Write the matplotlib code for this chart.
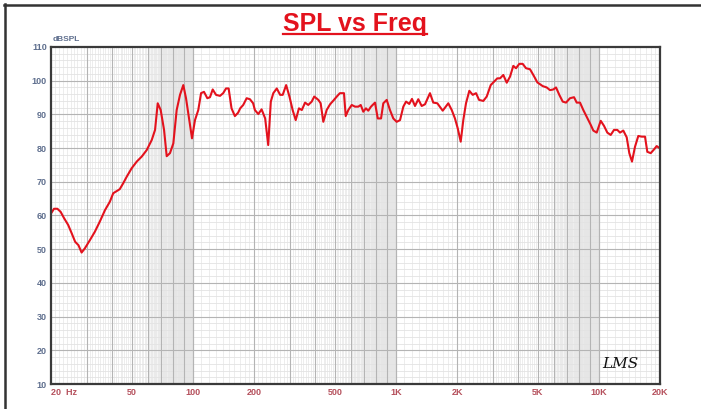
import numpy as np
import matplotlib
matplotlib.use("Agg")
import matplotlib.pyplot as plt
from matplotlib.lines import Line2D

# frequency response (Hz, dB SPL)
freq = [20, 20.7, 21.5, 22.3, 23.2, 24.3, 25.3, 26.3, 27.3, 28.3, 29.4, 31.1,
        32.9, 34.8, 36.9, 39.0, 40.5, 43.6, 45.3, 47.2, 49.9, 52.9, 56, 59.2,
        62.7, 65.1, 67.1, 69.4, 72.1, 74.3, 77.1, 80.1, 83.2, 86.4, 89.7, 92.5,
        96, 99, 102.4, 106.3, 109.7, 113.4, 117.8, 121.4, 125.2, 130, 136, 141,
        145.6, 150, 155, 161, 167, 171, 177, 184, 191, 198, 202, 210, 218, 227,
        235, 242, 249, 259, 269, 277, 288, 299, 310, 321, 333, 344, 357, 370,
        385, 396, 415, 426, 439, 456, 474, 492, 515, 530, 555, 566, 583, 606,
        629, 653, 671, 691, 712, 731, 754, 789, 814, 845, 867, 901, 935, 971,
        1009, 1048, 1088, 1122, 1164, 1200, 1242, 1289, 1340, 1391, 1472, 1528,
        1600, 1701, 1812, 1884, 1954, 2016, 2086, 2148, 2215, 2300, 2391, 2482,
        2568, 2696, 2802, 2932, 3044, 3160, 3258, 3382, 3516, 3649, 3788, 3906,
        4054, 4213, 4376, 4578, 4754, 4975, 5288, 5533, 5744, 5964, 6150, 6382,
        6634, 6886, 7206, 7542, 7776, 8072, 8380, 8710, 9114, 9388, 9756, 10210,
        10598, 11002, 11434, 11870, 12324, 12706, 13190, 13710, 14120, 14556,
        15062, 15636, 16252, 16872, 17318, 18000, 18684, 19264, 20000]
spl = [60.6, 62, 62, 61.1, 59.2, 57.2, 54.7, 52.2, 51.2, 49, 50.3, 52.7,
       55.2, 58.2, 61.6, 64.1, 66.6, 67.8, 69.5, 71.5, 74, 76, 77.5, 79.4,
       82.4, 85.4, 93.3, 91.3, 85.4, 77.6, 78.5, 81.4, 91.3, 95.8, 98.7, 94.8,
       88.3, 82.9, 88.3, 91.3, 96.3, 96.7, 94.8, 95.1, 97.4, 95.8, 95.5, 96.3,
       97.7, 97.7, 91.8, 89.5, 90.5, 91.8, 92.8, 94.8, 94.5, 93.3, 91.3, 90.1,
       91.5, 88.8, 80.9, 93.8, 96.3, 97.7, 95.8, 95.8, 98.7, 95.3, 91.3, 88.3,
       91.8, 91.3, 93.5, 92.8, 93.8, 95.3, 94.3, 93.3, 87.8, 91.3, 93, 94.1,
       95.5, 96.3, 96.3, 89.5, 91.3, 92.8, 92.3, 92.3, 92.8, 90.8, 91.8, 91.1,
       92.3, 93.5, 88.8, 88.8, 93.3, 94.3, 91.3, 88.8, 87.8, 88.3, 92.3, 93.8,
       93.1, 94.6, 92.5, 94.5, 92.5, 93, 96.3, 93.5, 93.3, 91.1, 93.3, 91.3,
       88.8, 85.9, 81.9, 88.3, 93.3, 97, 95.8, 96.3, 94.3, 94, 95.3, 98.7, 99.7,
       100.7, 100.7, 101.7, 99.4, 101.2, 104.4, 103.7, 105, 105, 103.7, 103.4,
       101.7, 99.5, 98.4, 98, 97.2, 97.4, 98, 95.8, 93.8, 93.5, 94.8, 95.1,
       93.5, 93.5, 91.3, 89.3, 86.9, 85.2, 84.6, 88.1, 86.6, 84.6, 83.9, 85.4,
       85.4, 84.6, 85.2, 83.2, 78.5, 76, 80.4, 83.6, 83.4, 83.4, 78.9, 78.5,
       79.6, 80.6, 79.9]

xticks = [20, 50, 100, 200, 500, 1000, 2000, 5000, 10000, 20000]
xlabels = ["20  Hz", "50", "100", "200", "500", "1K", "2K", "5K", "10K", "20K"]
yticks = list(range(10, 111, 10))

W, H = 701, 409
fig = plt.figure(figsize=(W / 100, H / 100), dpi=100)
ax = fig.add_axes([51 / W, 1 - 384 / H, 609 / W, 337 / H])
ax.set_xscale("log")
ax.set_xlim(20, 20000)
ax.set_ylim(10, 110)

# shaded bands where the LMS grid gets dense
for d in [10, 100, 1000]:
    ax.axvspan(6 * d, 7 * d, color="#f4f4f4", lw=0, zorder=0)
    ax.axvspan(7 * d, 8 * d, color="#eeeeee", lw=0, zorder=0)
    ax.axvspan(8 * d, 10 * d, color="#e9e9e9", lw=0, zorder=0)

# minor vertical grid
for d in [10, 100, 1000, 10000]:
    for k in np.arange(1.0, 10.0, 0.1):
        f = k * d
        if 20 <= f <= 20000 and abs(k - round(k)) > 1e-6:
            ax.axvline(f, color="#e6e6e6", lw=0.5, zorder=1)
# minor horizontal grid
for y in range(12, 110, 2):
    if y % 10:
        ax.axhline(y, color="#e3e3e3", lw=0.6, zorder=1)
# major grid
for d in [10, 100, 1000, 10000]:
    for k in range(1, 11):
        f = k * d
        if 20 < f < 20000:
            ax.axvline(f, color="#b4b4b4", lw=0.8, zorder=2)
for y in yticks[1:-1]:
    ax.axhline(y, color="#b4b4b4", lw=0.8, zorder=2)

ax.plot(freq, spl, color="#e3121d", lw=1.5, zorder=5)

ax.set_xticks(xticks)
ax.set_xticklabels(xlabels)
ax.xaxis.set_minor_locator(matplotlib.ticker.NullLocator())
ax.set_yticks(yticks)
ax.tick_params(length=0, pad=3)
for lab in ax.get_xticklabels():
    lab.set_fontsize(6.5)
    lab.set_fontweight("bold")
    lab.set_color("#b5505c")
    lab.set_family("Liberation Sans")
ax.get_xticklabels()[0].set_ha("left")
for lab in ax.get_yticklabels():
    lab.set_fontsize(6.5)
    lab.set_fontweight("bold")
    lab.set_color("#5f6f8e")
    lab.set_family("Liberation Sans")
for s in ax.spines.values():
    s.set_color("#3a3a3a")
    s.set_linewidth(1.6)
    s.set_zorder(6)

fig.text(53 / W, 1 - 41 / H, "dBSPL", fontsize=6, fontweight="bold",
         color="#5f6f8e", family="Liberation Sans", va="baseline")

title = fig.text(355 / W, 1 - 31 / H, "SPL vs Freq", fontsize=18,
                 fontweight="bold", color="#e3121d", family="Liberation Sans",
                 ha="center", va="baseline")
fig.canvas.draw()
bb = title.get_window_extent()
fig.add_artist(Line2D([bb.x0 / W, bb.x1 / W], [1 - 34 / H, 1 - 34 / H],
                      color="#e3121d", lw=1.6, transform=fig.transFigure))

# signature
ax.text(0.935, 0.04, "LMS", transform=ax.transAxes, fontsize=11,
        style="italic", family="DejaVu Serif", color="#111111",
        ha="center", va="bottom", zorder=7)

# outer frame (top and left edges)
fig.add_artist(Line2D([4 / W, 1], [1 - 4.5 / H, 1 - 4.5 / H], color="#333333",
                      lw=1.8, transform=fig.transFigure))
fig.add_artist(Line2D([4.5 / W, 4.5 / W], [0, 1 - 4 / H], color="#333333",
                      lw=1.8, transform=fig.transFigure))

fig.savefig("out.png", dpi=100)
